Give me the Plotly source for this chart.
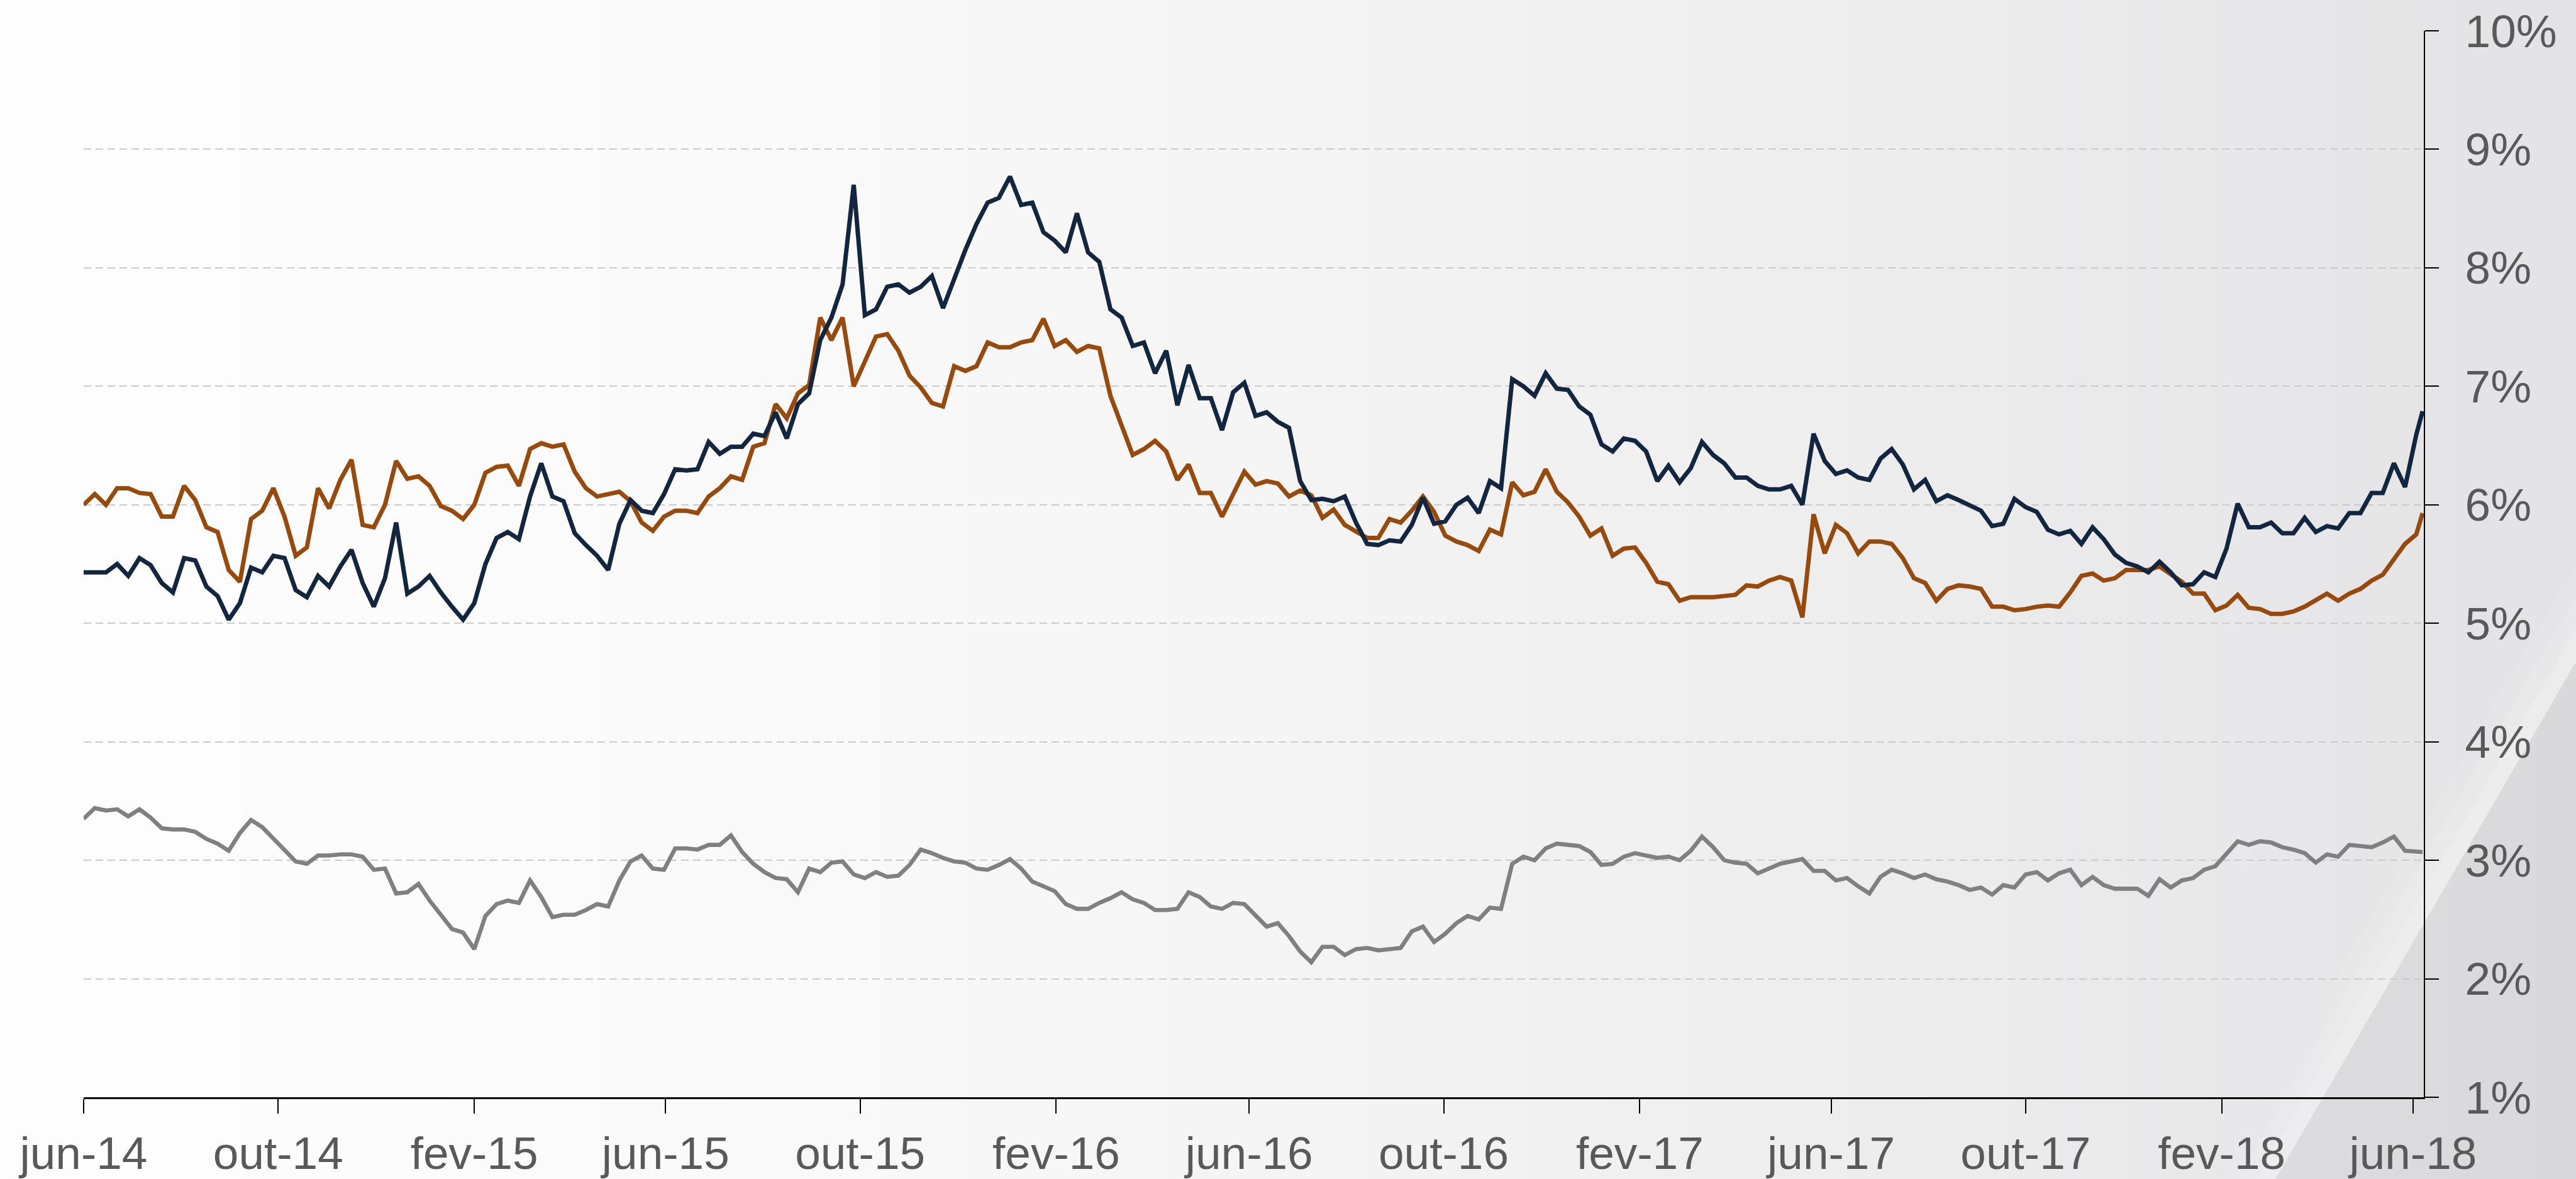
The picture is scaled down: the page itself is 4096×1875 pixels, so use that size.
import pandas as pd
import plotly.graph_objects as go

# ---------------- data (weekly readings, % a.a.) ----------------
dates = list(pd.date_range("2014-06-01", periods=210, freq="7D").strftime("%Y-%m-%d")) + ["2018-06-07"]

serie_azul = [
    5.43, 5.43, 5.43, 5.50, 5.40, 5.55, 5.49, 5.34, 5.26, 5.55,
    5.53, 5.31, 5.23, 5.03, 5.17, 5.47, 5.43, 5.57, 5.55, 5.28,
    5.22, 5.40, 5.31, 5.48, 5.62, 5.34, 5.14, 5.38, 5.85, 5.25,
    5.31, 5.40, 5.26, 5.14, 5.03, 5.17, 5.50, 5.72, 5.77, 5.71,
    6.07, 6.35, 6.07, 6.03, 5.76, 5.66, 5.57, 5.45, 5.84, 6.04,
    5.95, 5.93, 6.09,
    6.30, 6.29, 6.30, 6.53, 6.43, 6.49, 6.49, 6.60, 6.58, 6.78,
    6.56, 6.85, 6.94, 7.39, 7.58, 7.86, 8.70, 7.60, 7.65, 7.84,
    7.86, 7.79, 7.84, 7.93, 7.66, 7.91, 8.15, 8.37, 8.55, 8.59,
    8.77, 8.53, 8.55, 8.30, 8.23, 8.13, 8.46, 8.13, 8.05, 7.65,
    7.58, 7.34, 7.37, 7.11, 7.30, 6.84, 7.18, 6.90, 6.90, 6.63,
    6.95, 7.03,
    6.75, 6.78, 6.70, 6.65, 6.20, 6.04, 6.05, 6.03, 6.07, 5.85,
    5.67, 5.66, 5.70, 5.69, 5.83, 6.06, 5.84, 5.86, 6.00, 6.06,
    5.93, 6.20, 6.14, 7.06, 7.00, 6.92, 7.11, 6.98, 6.97, 6.83,
    6.76, 6.51, 6.45, 6.56, 6.54, 6.45, 6.20, 6.33, 6.19, 6.31,
    6.53, 6.42, 6.35, 6.23, 6.23, 6.16, 6.13, 6.13, 6.16, 6.00,
    6.60, 6.37,
    6.26, 6.29, 6.23, 6.21, 6.39, 6.47, 6.34, 6.13, 6.21, 6.03,
    6.08, 6.04, 5.99, 5.95, 5.82, 5.84, 6.05, 5.98, 5.94, 5.79,
    5.75, 5.78, 5.67, 5.81, 5.71, 5.58, 5.51, 5.48, 5.43, 5.52,
    5.43, 5.32, 5.33, 5.43, 5.39, 5.63, 6.01, 5.81, 5.81, 5.85,
    5.76, 5.76, 5.89, 5.77, 5.82, 5.80, 5.93, 5.93, 6.10, 6.10,
    6.35, 6.15, 6.59, 6.79,
]

serie_laranja = [
    6.00, 6.09, 6.00, 6.14, 6.14, 6.10, 6.09, 5.90, 5.90, 6.16,
    6.04, 5.81, 5.77, 5.45, 5.35, 5.88, 5.95, 6.14, 5.90, 5.57,
    5.64, 6.14, 5.97, 6.21, 6.38, 5.83, 5.81, 6.00, 6.37, 6.22,
    6.24, 6.16, 5.99, 5.95, 5.88, 6.00, 6.27, 6.32, 6.33, 6.16,
    6.47, 6.52, 6.49, 6.51, 6.28, 6.14, 6.07, 6.09, 6.11, 6.03,
    5.85, 5.78, 5.90,
    5.95, 5.95, 5.93, 6.07, 6.14, 6.24, 6.21, 6.49, 6.52, 6.85,
    6.73, 6.94, 7.01, 7.58, 7.39, 7.58, 7.00, 7.22, 7.42, 7.44,
    7.30, 7.09, 6.99, 6.86, 6.83, 7.17, 7.13, 7.17, 7.37, 7.33,
    7.33, 7.37, 7.39, 7.57, 7.34, 7.39, 7.29, 7.34, 7.32, 6.92,
    6.66, 6.42, 6.47, 6.54, 6.45, 6.21, 6.34, 6.10, 6.10, 5.90,
    6.09, 6.28,
    6.17, 6.20, 6.18, 6.07, 6.12, 6.08, 5.89, 5.96, 5.83, 5.78,
    5.72, 5.72, 5.88, 5.85, 5.95, 6.07, 5.94, 5.74, 5.69, 5.66,
    5.61, 5.79, 5.75, 6.19, 6.08, 6.11, 6.30, 6.11, 6.02, 5.90,
    5.74, 5.80, 5.57, 5.63, 5.64, 5.51, 5.35, 5.33, 5.19, 5.22,
    5.22, 5.22, 5.23, 5.24, 5.32, 5.31, 5.36, 5.39, 5.36, 5.05,
    5.92, 5.59,
    5.83, 5.76, 5.59, 5.69, 5.69, 5.67, 5.55, 5.38, 5.34, 5.19,
    5.29, 5.32, 5.31, 5.29, 5.14, 5.14, 5.11, 5.12, 5.14, 5.15,
    5.14, 5.26, 5.40, 5.42, 5.36, 5.38, 5.45, 5.45, 5.45, 5.48,
    5.42, 5.35, 5.25, 5.25, 5.11, 5.15, 5.24, 5.13, 5.12, 5.08,
    5.08, 5.10, 5.14, 5.19, 5.25, 5.19, 5.25, 5.29, 5.36, 5.41,
    5.54, 5.67, 5.75, 5.93,
]

serie_cinza = [
    3.35, 3.44, 3.42, 3.43, 3.37, 3.43, 3.36, 3.27, 3.26, 3.26,
    3.24, 3.18, 3.14, 3.08, 3.23, 3.34, 3.28, 3.18, 3.09, 2.99,
    2.97, 3.04, 3.04, 3.05, 3.05, 3.03, 2.92, 2.93, 2.72, 2.73,
    2.80, 2.66, 2.54, 2.42, 2.39, 2.25, 2.53, 2.63, 2.66, 2.64,
    2.83, 2.69, 2.52, 2.54, 2.54, 2.58, 2.63, 2.61, 2.83, 2.99,
    3.04, 2.93, 2.92,
    3.10, 3.10, 3.09, 3.13, 3.13, 3.21, 3.07, 2.97, 2.90, 2.85,
    2.84, 2.73, 2.93, 2.90, 2.98, 2.99, 2.88, 2.85, 2.90, 2.86,
    2.87, 2.96, 3.09, 3.06, 3.02, 2.99, 2.98, 2.93, 2.92, 2.96,
    3.01, 2.93, 2.82, 2.78, 2.74, 2.63, 2.59, 2.59, 2.64, 2.68,
    2.73, 2.67, 2.64, 2.58, 2.58, 2.59, 2.73, 2.69, 2.61, 2.59,
    2.64, 2.63,
    2.54, 2.44, 2.47, 2.36, 2.23, 2.14, 2.27, 2.27, 2.20, 2.25,
    2.26, 2.24, 2.25, 2.26, 2.40, 2.44, 2.31, 2.38, 2.47, 2.53,
    2.50, 2.60, 2.59, 2.97, 3.03, 3.00, 3.10, 3.14, 3.13, 3.12,
    3.07, 2.96, 2.97, 3.03, 3.06, 3.04, 3.02, 3.03, 3.00, 3.08,
    3.20, 3.11, 3.00, 2.98, 2.97, 2.89, 2.93, 2.97, 2.99, 3.01,
    2.91, 2.91,
    2.83, 2.85, 2.78, 2.72, 2.86, 2.92, 2.89, 2.85, 2.88, 2.84,
    2.82, 2.79, 2.75, 2.77, 2.71, 2.79, 2.77, 2.88, 2.90, 2.83,
    2.89, 2.92, 2.79, 2.86, 2.79, 2.76, 2.76, 2.76, 2.70, 2.84,
    2.77, 2.83, 2.85, 2.92, 2.95, 3.05, 3.16, 3.13, 3.16, 3.15,
    3.11, 3.09, 3.06, 2.98, 3.05, 3.03, 3.13, 3.12, 3.11, 3.15,
    3.20, 3.08, 3.07, 3.07,
]

tick_dates = ["2014-06-01", "2014-10-01", "2015-02-01", "2015-06-01", "2015-10-01",
              "2016-02-01", "2016-06-01", "2016-10-01", "2017-02-01", "2017-06-01",
              "2017-10-01", "2018-02-01", "2018-06-01"]
tick_labels = ["jun-14", "out-14", "fev-15", "jun-15", "out-15", "fev-16", "jun-16",
               "out-16", "fev-17", "jun-17", "out-17", "fev-18", "jun-18"]
y_ticks = list(range(1, 11))
y_labels = [f"{v}%" for v in y_ticks]

# ---------------- figure ----------------
W, H = 4096, 1875
ML, MR, MT, MB = 133, 242, 49, 130
PW, PH = W - ML - MR, H - MT - MB


def px(x):
    return (x - ML) / PW


def py(y):
    return (H - MB - y) / PH


fig = go.Figure()
fig.add_trace(go.Scatter(x=dates, y=serie_cinza, mode="lines", name="Série cinza",
                         line=dict(color="#808080", width=6.6)))
fig.add_trace(go.Scatter(x=dates, y=serie_laranja, mode="lines", name="Série laranja",
                         line=dict(color="#984a0c", width=7)))
fig.add_trace(go.Scatter(x=dates, y=serie_azul, mode="lines", name="Série azul",
                         line=dict(color="#13263f", width=7)))

# background gradient (light on the left, grey on the right)
shapes = []
N = 64
c0 = (253, 253, 253)
c1 = (227, 227, 229)
for i in range(N):
    t = i / (N - 1)
    t2 = t ** 1.6
    c = tuple(round(c0[j] + (c1[j] - c0[j]) * t2) for j in range(3))
    x0 = W * i / N - 1
    x1 = W * (i + 1) / N + 1
    shapes.append(dict(type="rect", xref="paper", yref="paper", layer="below",
                       x0=px(x0), x1=px(x1), y0=py(H + 2), y1=py(-2),
                       line=dict(width=0), fillcolor=f"rgb{c}"))
# subtle corner sheen in bottom-right
for k, a in enumerate([0.08, 0.12, 0.18]):
    off = 90 - 30 * k
    shapes.append(dict(type="path", xref="paper", yref="paper", layer="below",
                       path=f"M {px(W+2)} {py(1049)} L {px(3617)} {py(H+2)} L {px(3617-off)} {py(H+2)} L {px(W+2)} {py(1049-off*1.74)} Z",
                       line=dict(width=0), fillcolor=f"rgba(255,255,255,{a})"))
shapes.append(dict(type="path", xref="paper", yref="paper", layer="below",
                   path=f"M {px(W+2)} {py(1049)} L {px(3617)} {py(H+2)} L {px(W+2)} {py(H+2)} Z",
                   line=dict(width=0), fillcolor="rgba(195,195,200,0.30)"))

font_family = "Arial, Liberation Sans, sans-serif"
fig.update_layout(
    width=W, height=H,
    margin=dict(l=ML, r=MR, t=MT, b=MB, pad=0, autoexpand=False),
    paper_bgcolor="#f0f0f0",
    plot_bgcolor="rgba(0,0,0,0)",
    showlegend=False,
    shapes=shapes,
    font=dict(family=font_family, size=73, color="#595959"),
    xaxis=dict(
        type="date",
        range=["2014-06-01", "2018-06-07 18:00"],
        tickvals=tick_dates, ticktext=tick_labels,
        showline=True, linecolor="black", linewidth=3,
        ticks="outside", ticklen=23, tickwidth=2, tickcolor="black",
        showgrid=False, zeroline=False, automargin=False,
        tickfont=dict(family=font_family, size=73, color="#595959"),
    ),
    yaxis=dict(
        side="right",
        range=[1, 10],
        tickvals=y_ticks, ticktext=y_labels,
        showline=True, linecolor="black", linewidth=2,
        ticks="outside", ticklen=22, tickwidth=2, tickcolor="black",
        ticklabelstandoff=27,
        showgrid=True, gridcolor="#cacaca", gridwidth=2, griddash="12px,7px",
        zeroline=False, automargin=False,
        tickfont=dict(family=font_family, size=73, color="#595959"),
    ),
)

fig.write_html("out.html", config={"displayModeBar": False},
               post_script="document.body.style.margin='0';document.body.style.overflow='hidden';")
